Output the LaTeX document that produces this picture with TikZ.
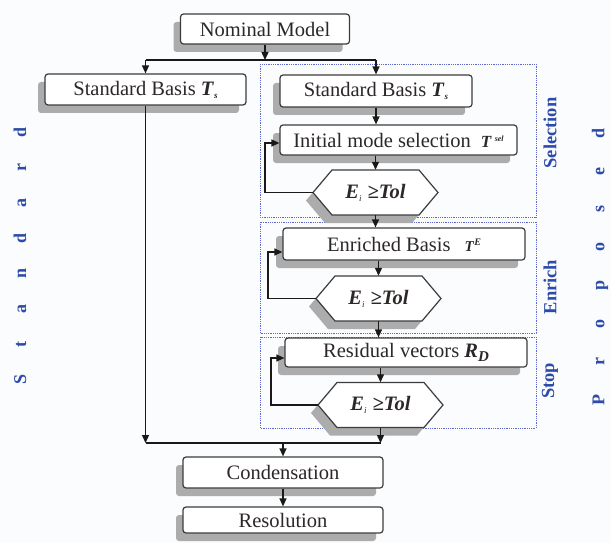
\documentclass[tikz,border=0pt]{standalone}
\usepackage{fontspec}
\setmainfont{Liberation Serif}
\usetikzlibrary{shadows,arrows.meta,calc}
\definecolor{lblue}{RGB}{45,75,170}
\definecolor{dotblue}{RGB}{95,105,205}
\definecolor{boxline}{RGB}{60,60,60}
\definecolor{txt}{RGB}{45,40,40}
\definecolor{shad}{RGB}{172,172,172}
\definecolor{bgc}{RGB}{251,252,253}
\newcommand\bi[1]{\textbf{\textit{#1}}}
\newcommand\smallfs[1]{\fontsize{#1}{#1}\selectfont}
\tikzset{
  box/.style={draw=boxline, line width=1.2pt, rounded corners=3pt, fill=white, text=txt,
    font=\smallfs{20.5}, inner sep=0pt,
    drop shadow={shadow xshift=-7pt, shadow yshift=-8pt, fill=shad, opacity=1}},
  hexdraw/.style={draw=boxline, line width=1.2pt, fill=white,
    drop shadow={shadow xshift=-7pt, shadow yshift=-8pt, fill=shad, opacity=1}},
  hextext/.style={text=txt, font=\smallfs{20.5}, inner sep=0pt, minimum width=125pt, minimum height=45pt},
  arr/.style={-{Triangle[length=8pt,width=7pt]}, line width=1.3pt, draw=black!90},
  ln/.style={line width=1.3pt, draw=black!90},
  grp/.style={draw=dotblue, line width=0.9pt, dash pattern=on 0.9pt off 0.9pt},
  side/.style={text=lblue, font=\smallfs{18.5}\bfseries, rotate=90, inner sep=0pt},
}
\begin{document}
\begin{tikzpicture}[x=1pt,y=-1pt]
\fill[bgc] (0,0) rectangle (611,543);
\useasboundingbox (0,0) rectangle (611,543);

% group frames
\draw[grp] (260,64) rectangle (536,217);
\draw[grp] (260,222) rectangle (536,333);
\draw[grp] (260,337) rectangle (536,428);

% boxes
\node[box, minimum width=169pt, minimum height=30pt] (nom) at (265,29) {Nominal Model};
\node[box, minimum width=201pt, minimum height=31pt] (lstd) at (145.5,89.5) {Standard Basis \bi{T}\raisebox{-3pt}{\smallfs{9}\bi{s}}};
\node[box, minimum width=192pt, minimum height=32pt] (rstd) at (376,91) {Standard Basis \bi{T}\raisebox{-3pt}{\smallfs{9}\bi{s}}};
\node[box, minimum width=237pt, minimum height=30pt] (init) at (398.5,140) {Initial mode selection\hspace{10pt}\bi{\smallfs{17}T}\hspace{3pt}\raisebox{6pt}{\smallfs{8}\bi{sel}}};
\node[box, minimum width=242pt, minimum height=32pt] (enr) at (404,244) {Enriched Basis\hspace{14pt}\bi{\smallfs{15}T}\raisebox{6pt}{\smallfs{10}\bi{E}}};
\node[box, minimum width=242pt, minimum height=29pt] (res) at (406,352.5) {Residual vectors \bi{R}\raisebox{-4pt}{\smallfs{15}\bi{D}}};
\node[box, minimum width=200pt, minimum height=31pt] (cond) at (283,472.5) {Condensation};
\node[box, minimum width=200pt, minimum height=26pt] (reso) at (283,520) {Resolution};

% hexagons
\coordinate (c1) at (375.5,192.5);
\coordinate (c2) at (378.5,298.5);
\coordinate (c3) at (380.5,405);
\foreach \c in {c1,c2,c3}{
  \filldraw[hexdraw] ($(\c)+(-62.5,0)$) -- ($(\c)+(-43.5,-22.5)$) -- ($(\c)+(43.5,-22.5)$)
     -- ($(\c)+(62.5,0)$) -- ($(\c)+(43.5,22.5)$) -- ($(\c)+(-43.5,22.5)$) -- cycle;
}
\node[hextext] (h1) at (c1) {\bi{E}\raisebox{-3pt}{\smallfs{9}\textit{i}}\hspace{6pt}\bi{≥Tol}};
\node[hextext] (h2) at (c2) {\bi{E}\raisebox{-3pt}{\smallfs{9}\textit{i}}\hspace{6pt}\bi{≥Tol}};
\node[hextext] (h3) at (c3) {\bi{E}\raisebox{-3pt}{\smallfs{9}\textit{i}}\hspace{6pt}\bi{≥Tol}};

% side labels
\node[side] (lsel) at (550,133) {Selection};
\node[side] (lenr) at (550,287) {Enrich};
\node[side] (lstop) at (550,381) {Stop};
\node[side, font=\smallfs{18}\bfseries] (lstdlab) at (20,256) {\makebox[35.4pt]{S}\makebox[35.4pt]{t}\makebox[35.4pt]{a}\makebox[35.4pt]{n}\makebox[35.4pt]{d}\makebox[35.4pt]{a}\makebox[35.4pt]{r}\makebox[35.4pt]{d}};
\node[side, font=\smallfs{18}\bfseries] (lprop) at (600,266.5) {\makebox[38.1pt]{P}\makebox[38.1pt]{r}\makebox[38.1pt]{o}\makebox[38.1pt]{p}\makebox[38.1pt]{o}\makebox[38.1pt]{s}\makebox[38.1pt]{e}\makebox[38.1pt]{d}};

% connectors: top split
\coordinate (sp) at (265,60);
\draw[arr] (nom.south) -- (sp);
\draw[ln] (lstd.north |- sp) -- (rstd.north |- sp);
\draw[arr] (lstd.north |- sp) -- (lstd.north);
\draw[arr] (rstd.north |- sp) -- (rstd.north);

% right chain
\draw[arr] (rstd.south) -- (rstd.south |- init.north);
\draw[arr] (h1.north |- init.south) -- (h1.north);
\draw[arr] (h1.south) -- (h1.south |- enr.north);
\draw[arr] (h2.north |- enr.south) -- (h2.north);
\draw[arr] (h2.south) -- (h2.south |- res.north);
\draw[arr] (h3.north |- res.south) -- (h3.north);

% loops
\coordinate (l1) at (265,143);
\coordinate (l2) at (268,252);
\coordinate (l3) at (271,358);
\draw[arr] (h1.west) -| (l1) -- (l1 -| init.west);
\draw[arr] (h2.west) -| (l2) -- (l2 -| enr.west);
\draw[arr] (h3.west) -| (l3) -- (l3 -| res.west);

% merge
\coordinate (mj) at (283,443);
\draw[arr] (lstd.south) -- (lstd.south |- mj);
\draw[arr] (h3.south) -- (h3.south |- mj);
\draw[ln] (lstd.south |- mj) -- (h3.south |- mj);
\draw[arr] (mj) -- (cond.north);
\draw[arr] (cond.south) -- (reso.north);
\end{tikzpicture}
\end{document}
